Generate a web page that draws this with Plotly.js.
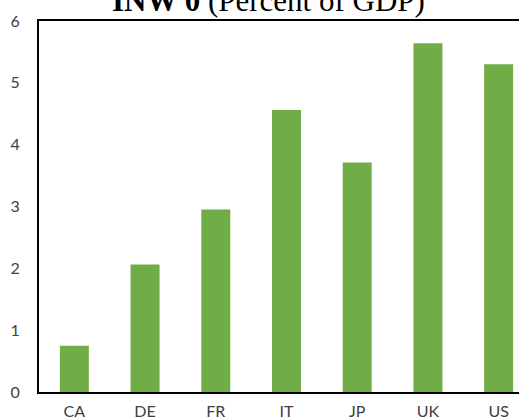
<!DOCTYPE html>
<html>
<head>
<meta charset="utf-8">
<script src="https://cdn.plot.ly/plotly-3.0.1.min.js"></script>
<style>
html,body{margin:0;padding:0;overflow:hidden;background:#fff;}
#chart{width:560px;height:417px;}
</style>
</head>
<body>
<div id="chart"></div>
<script>
const categories = ["CA", "DE", "FR", "IT", "JP", "UK", "US"];
const values = [0.75, 2.06, 2.95, 4.56, 3.71, 5.64, 5.30];
const yTicks = [0, 1, 2, 3, 4, 5, 6];
const titleBold = "INW 0";
const titleRest = " (Percent of GDP)";

const trace = {
  type: "bar",
  x: categories,
  y: values,
  marker: {color: "#70AD47"},
  hoverinfo: "x+y"
};

const layout = {
  width: 560,
  height: 417,
  margin: {l: 38.6, r: 25.8, t: 21, b: 25},
  paper_bgcolor: "#fff",
  plot_bgcolor: "#fff",
  bargap: 0.59,
  showlegend: false,
  annotations: [{
    text: "<b>" + titleBold + "</b>" + titleRest,
    font: {family: "Liberation Serif, Times New Roman, serif", size: 31, color: "#000"},
    xref: "paper",
    x: (268 - 38.6) / 495.6,
    xanchor: "center",
    yref: "paper",
    y: 1 + 20 / 371,
    yanchor: "middle",
    showarrow: false
  }],
  xaxis: {
    type: "category",
    showline: true,
    linecolor: "#000",
    linewidth: 2,
    mirror: true,
    ticks: "",
    showgrid: false,
    zeroline: false,
    tickfont: {family: "Lato, Carlito, Calibri, sans-serif", size: 16, color: "#404040"},
    ticklabelstandoff: 4
  },
  yaxis: {
    range: [0, 6],
    tickvals: yTicks,
    ticktext: yTicks.map(String),
    showline: true,
    linecolor: "#000",
    linewidth: 2,
    mirror: true,
    ticks: "",
    showgrid: false,
    zeroline: false,
    tickfont: {family: "Lato, Carlito, Calibri, sans-serif", size: 16, color: "#404040"},
    ticklabelstandoff: 14
  }
};

Plotly.newPlot("chart", [trace], layout, {displayModeBar: false, staticPlot: true});
</script>
</body>
</html>
